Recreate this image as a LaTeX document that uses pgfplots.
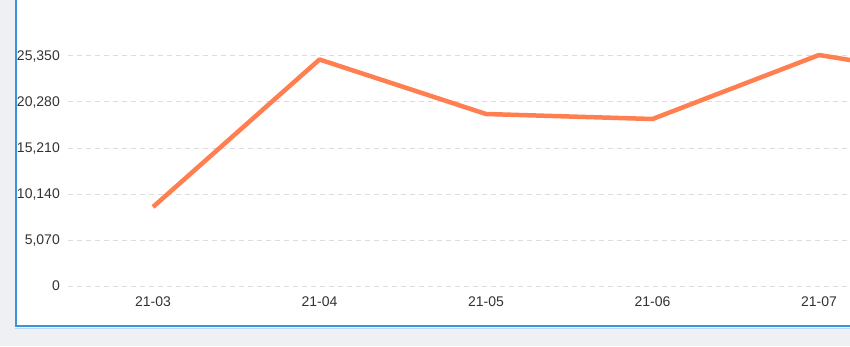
\documentclass[border=0pt]{standalone}
\usepackage{pgfplots}
\pgfplotsset{compat=1.18}
\usepackage{fontspec}
\setmainfont{Liberation Sans}
\definecolor{bg}{HTML}{EEF0F4}
\definecolor{brd}{HTML}{3C93D8}
\definecolor{grd}{HTML}{DDDDDD}
\definecolor{lbl}{HTML}{333333}
\definecolor{ln}{HTML}{FF7F50}
\begin{document}
\begin{tikzpicture}[x=1pt,y=1pt]
\useasboundingbox (0,0) rectangle (850,346);
\clip (0,0) rectangle (850,346);
\fill[bg] (0,0) rectangle (850,346);
\fill[white] (16,20) rectangle (850,346);
\draw[brd!35, line width=1pt] (15,17.5) -- (850,17.5);
\draw[brd, line width=2pt] (16,346) -- (16,20) -- (850,20);
\begin{axis}[
  at={(68pt,60pt)}, anchor=south west,
  scale only axis, width=932pt, height=286pt,
  xmin=-0.5105, xmax=5.0871, ymin=0, ymax=31522,
  axis lines*=left, axis line style={draw=none},
  major tick length=0pt,
  xtick={0,1,2,3,4},
  xticklabels={21-03,21-04,21-05,21-06,21-07},
  ytick={0,5070,10140,15210,20280,25350},
  /pgf/number format/assume math mode=true,
  /pgf/number format/1000 sep={,},
  scaled y ticks=false,
  tick label style={font=\fontsize{14}{16}\selectfont, text=lbl, inner sep=0pt},
  yticklabel style={anchor=east, xshift=-8pt, text depth=0pt},
  xticklabel style={anchor=north, yshift=-11pt},
  ymajorgrids,
  grid style={grd, line width=1pt, dash pattern=on 5pt off 4pt},
  clip=false,
]
\addplot[ln, line width=4.5pt, line join=round] coordinates {
  (0,8707) (1,24964) (2,18957) (3,18406) (4,25460) (5,22480)
};
\end{axis}
\end{tikzpicture}
\end{document}
